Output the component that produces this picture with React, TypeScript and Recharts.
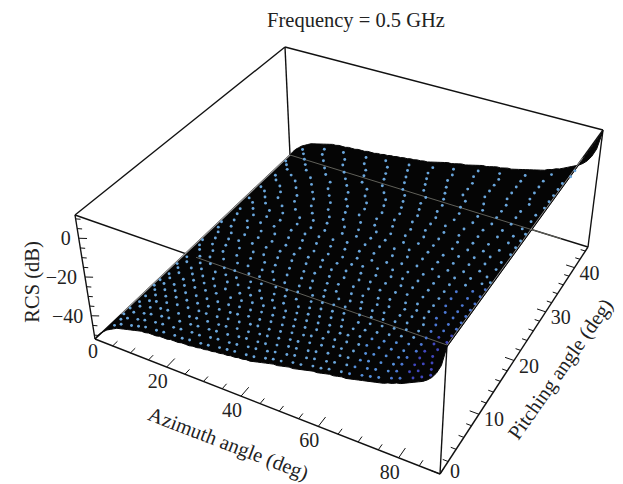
import { ScatterChart, Scatter, XAxis, YAxis } from "recharts";

const rcsMin = -52;
const rcsMax = 12;

const azimuthMajor = [0, 20, 40, 60, 80];
const azimuthMinor = [5, 10, 15, 25, 30, 35, 45, 50, 55, 65, 70, 75, 85, 90];
const pitchMajor = [0, 10, 20, 30, 40];
const pitchMinor = [2, 4, 6, 8, 12, 14, 16, 18, 22, 24, 26, 28, 32, 34, 36, 38, 42, 44];
const rcsMajor = [-40, -20, 0];
const rcsMinor = [-50, -45, -35, -30, -25, -15, -10, -5, 5, 10];

// RCS read along the surface, one value per degree of azimuth (0..90)
const rcsByAzimuth = [
  -52, -49.5, -47.5, -46, -44.5, -43.5, -42.5, -41.5, -41, -40.5,
  -40, -39.5, -39, -38.5, -38, -38, -37.5, -37.5, -37.5, -37,
  -37, -37, -36.5, -36.5, -36.5, -36, -36, -36, -35.5, -35.5,
  -35, -35, -34.5, -34.5, -34, -34, -33.5, -33.5, -33, -33,
  -32.5, -32.5, -32, -32, -31.5, -31, -30.5, -30, -29.5, -29,
  -29, -28.5, -28, -27.5, -27.5, -27, -26.5, -26, -25.5, -25,
  -25, -24.5, -24, -23.5, -23.5, -23, -22.5, -22.5, -22, -21.5,
  -21, -20.5, -20, -19.5, -19, -18.5, -18, -17, -16.5, -15.5,
  -15, -14, -13, -12, -11, -10, -8.5, -6.5, -3.5, 1, 11,
];

const dotPitches = [
  0.8, 2, 3.2, 4.4, 5.6, 6.8, 8, 9.2, 10.4, 11.6, 12.8, 14, 15.4, 16.8, 18.2, 19.6,
  21, 22.5, 24, 25.5, 27, 28.5, 30, 31.5, 33, 34.5, 36, 37.5, 39, 40.5, 42, 43.5,
];

// Azimuths of the light dots on each pitch row above
const dotAzimuths = [
  [5, 7, 10, 12, 14, 17, 19, 22, 24, 26, 29, 31, 34, 36, 38, 41, 43, 46, 48, 50, 53, 55, 58, 60, 62, 65, 67, 70, 72, 74, 77, 79, 82, 84, 86],
  [5, 7, 10, 12, 15, 17, 20, 22, 25, 27, 30, 32, 35, 37, 40, 42, 45, 47, 50, 52, 55, 57, 60, 62, 65, 67, 70, 72, 75, 77, 80, 82, 85],
  [4, 7, 10, 12, 15, 17, 20, 23, 25, 28, 30, 33, 36, 38, 41, 43, 46, 49, 51, 54, 56, 59, 62, 64, 67, 69, 72, 75, 77, 80, 82, 84],
  [4, 7, 10, 13, 15, 18, 21, 23, 26, 29, 31, 34, 37, 40, 42, 45, 48, 50, 53, 56, 59, 61, 64, 67, 69, 72, 75, 77, 80, 83],
  [5, 8, 10, 13, 16, 19, 22, 24, 27, 30, 33, 36, 38, 41, 44, 47, 50, 52, 55, 58, 61, 64, 66, 69, 72, 75, 78, 80, 83],
  [5, 8, 11, 14, 17, 20, 23, 26, 29, 31, 34, 37, 40, 43, 46, 49, 52, 55, 58, 60, 63, 66, 69, 72, 75, 78, 81, 84],
  [6, 9, 12, 15, 18, 21, 24, 27, 30, 33, 36, 39, 42, 45, 48, 51, 54, 57, 60, 63, 66, 69, 72, 75, 78, 81, 84],
  [4, 7, 10, 13, 16, 19, 22, 26, 29, 32, 35, 38, 41, 44, 47, 50, 53, 56, 60, 63, 66, 69, 72, 75, 78, 81, 84],
  [4, 7, 11, 14, 17, 20, 23, 27, 30, 33, 36, 39, 43, 46, 49, 52, 55, 59, 62, 65, 68, 71, 75, 78, 81, 84],
  [5, 8, 12, 15, 18, 22, 25, 28, 31, 35, 38, 41, 45, 48, 51, 54, 58, 61, 64, 68, 71, 74, 77, 81, 84],
  [6, 10, 13, 17, 20, 23, 27, 30, 34, 37, 40, 44, 47, 51, 54, 57, 61, 64, 68, 71, 74, 78, 81, 84],
  [4, 7, 11, 14, 18, 21, 25, 28, 32, 35, 39, 42, 46, 49, 53, 56, 60, 63, 67, 70, 74, 77, 81, 84],
  [5, 9, 12, 16, 20, 23, 27, 30, 34, 38, 41, 45, 48, 52, 56, 59, 63, 66, 70, 74, 77, 81, 84],
  [7, 11, 14, 18, 22, 26, 29, 33, 37, 40, 44, 48, 52, 55, 59, 63, 66, 70, 74, 77, 81, 84],
  [5, 9, 13, 17, 21, 24, 28, 32, 36, 40, 43, 47, 51, 55, 59, 62, 66, 70, 74, 78, 82, 84],
  [4, 8, 12, 15, 19, 23, 27, 31, 35, 39, 43, 47, 50, 54, 58, 62, 66, 70, 74, 78, 82],
  [7, 11, 15, 19, 23, 27, 31, 35, 39, 43, 47, 51, 55, 59, 63, 67, 71, 75, 79, 83],
  [5, 9, 14, 18, 22, 26, 30, 34, 38, 42, 46, 50, 55, 59, 63, 67, 71, 75, 79, 83],
  [4, 8, 12, 16, 20, 25, 29, 33, 37, 41, 46, 50, 54, 58, 63, 67, 71, 75, 79, 84],
  [7, 12, 16, 20, 25, 29, 33, 38, 42, 46, 50, 55, 59, 63, 68, 72, 76, 80, 84],
  [6, 10, 15, 19, 24, 28, 32, 37, 41, 46, 50, 54, 59, 63, 68, 72, 76, 81, 84],
  [8, 12, 17, 21, 26, 31, 35, 40, 44, 49, 54, 58, 63, 67, 72, 77, 81, 84],
  [5, 10, 14, 19, 24, 29, 34, 38, 43, 48, 53, 58, 62, 67, 72, 77, 82],
  [8, 13, 18, 23, 28, 33, 38, 43, 48, 53, 58, 63, 68, 73, 78, 83],
  [5, 11, 16, 21, 26, 31, 37, 42, 47, 52, 57, 63, 68, 73, 78, 83],
  [8, 14, 19, 24, 30, 35, 41, 46, 51, 57, 62, 68, 73, 78, 84],
  [6, 11, 17, 23, 28, 34, 39, 45, 51, 56, 62, 67, 73, 79, 84],
  [8, 14, 20, 26, 31, 37, 43, 49, 55, 60, 66, 72, 78, 84],
  [6, 12, 18, 24, 30, 36, 42, 48, 54, 60, 66, 72, 78, 84],
  [4, 10, 16, 22, 29, 35, 41, 47, 53, 60, 66, 72, 78, 84],
  [8, 14, 21, 27, 34, 40, 46, 53, 59, 66, 72, 78, 85],
  [6, 13, 19, 26, 32, 39, 46, 52, 59, 65, 72, 79, 85],
];

// Screen position of the eight box corners, in the order azimuth, pitch, rcs
const boxCorners = {
  a000: [95, 339],
  a100: [440, 474],
  a110: [588, 247],
  a010: [290, 155],
  a001: [75, 215],
  a101: [447, 345],
  a111: [603, 130],
  a011: [285, 47],
};

const warp = (u: number, r: number) => u / (u + r * (1 - u));
const mix = (p: number[], q: number[], t: number) => [p[0] + (q[0] - p[0]) * t, p[1] + (q[1] - p[1]) * t];

function project(az: number, pitch: number, rcs: number) {
  const u = warp(az / 90, 1.09);
  const v = warp(pitch / 45, 0.8);
  const w = (rcs - rcsMin) / (rcsMax - rcsMin);
  const c = boxCorners;
  const bottom = mix(mix(c.a000, c.a100, u), mix(c.a010, c.a110, u), v);
  const top = mix(mix(c.a001, c.a101, u), mix(c.a011, c.a111, u), v);
  const [x, y] = mix(bottom, top, w);
  return { x, y, az, pitch, rcs };
}

const noDot = () => <g />;

function segment(key: string, from: number[], to: number[], stroke: string, strokeWidth: number) {
  return (
    <Scatter
      key={key}
      data={[project(from[0], from[1], from[2]), project(to[0], to[1], to[2])]}
      shape={noDot}
      line={{ stroke, strokeWidth }}
      isAnimationActive={false}
    />
  );
}

const surfaceOutline = [
  ...rcsByAzimuth.map((rcs, az) => project(az, 0, rcs)),
  project(90, 15, 11),
  project(90, 30, 11),
  ...rcsByAzimuth.map((rcs, az) => project(az, 45, rcs)).reverse(),
];

const surfaceDots = dotAzimuths.flatMap((row, i) =>
  row.map((az) => project(az, dotPitches[i], rcsByAzimuth[az])),
);

function dotColor(az: number, pitch: number) {
  if (az >= 80 && pitch < 9) return "#4148c0";
  if (az >= 76 && pitch < 18) return "#4c78d4";
  if (az >= 66 && pitch < 8) return "#5690dc";
  return "#6aa6dc";
}

const DotMark = (props: any) => (
  <circle cx={props.cx} cy={props.cy} r={1.45} fill={dotColor(props.payload.az, props.payload.pitch)} />
);

function tickLabel(dx: number, dy: number, anchor: string) {
  return (props: any) => (
    <text
      x={props.cx + dx}
      y={props.cy + dy}
      textAnchor={anchor}
      dominantBaseline="central"
      fontFamily="Liberation Serif"
      fontSize={20}
      fill="#222"
    >
      {props.payload.label}
    </text>
  );
}

const azimuthLabels = azimuthMajor.map((az) => ({ ...project(az, 0, rcsMin), label: String(az) }));
const pitchLabels = pitchMajor.map((p) => ({ ...project(90, p, rcsMin), label: String(p) }));
const rcsLabels = rcsMajor.map((r) => ({ ...project(0, 0, r), label: String(r).replace("-", "\u2212") }));

const titleStyle = { fontFamily: "Liberation Serif", fontSize: 20.5, fill: "#222" };

export default function App() {
  return (
    <div style={{ position: "absolute", left: 0, top: 0, width: 623, height: 484, background: "#fff" }}>
      <ScatterChart width={623} height={484} margin={{ top: 0, right: 0, bottom: 0, left: 0 }}>
        <XAxis type="number" dataKey="x" domain={[0, 623]} hide allowDataOverflow />
        <YAxis type="number" dataKey="y" domain={[0, 484]} reversed hide allowDataOverflow />

        {/* box edges behind the surface */}
        {segment("e-ad", [0, 0, rcsMin], [0, 45, rcsMin], "#111", 1.4)}
        {segment("e-dc", [0, 45, rcsMin], [90, 45, rcsMin], "#111", 1.4)}
        {segment("e-dh", [0, 45, rcsMin], [0, 45, rcsMax], "#111", 1.4)}
        {segment("e-cg", [90, 45, rcsMin], [90, 45, rcsMax], "#111", 1.4)}
        {segment("e-ab", [0, 0, rcsMin], [90, 0, rcsMin], "#111", 1.4)}
        {segment("e-bc", [90, 0, rcsMin], [90, 45, rcsMin], "#111", 1.4)}
        {segment("e-ae", [0, 0, rcsMin], [0, 0, rcsMax], "#111", 1.4)}
        {segment("e-bf", [90, 0, rcsMin], [90, 0, rcsMax], "#111", 1.4)}
        {segment("e-ef", [0, 0, rcsMax], [90, 0, rcsMax], "#111", 1.4)}
        {segment("e-eh", [0, 0, rcsMax], [0, 45, rcsMax], "#111", 1.4)}
        {segment("e-hg", [0, 45, rcsMax], [90, 45, rcsMax], "#111", 1.4)}
        {segment("e-gf", [90, 45, rcsMax], [90, 0, rcsMax], "#111", 1.4)}

        {azimuthMajor.map((az) => segment(`az${az}`, [az, 0, rcsMin], [az, 1.6, rcsMin], "#111", 1))}
        {azimuthMinor.map((az) => segment(`azm${az}`, [az, 0, rcsMin], [az, 0.9, rcsMin], "#111", 1))}
        {pitchMajor.map((p) => segment(`p${p}`, [90, p, rcsMin], [87.7, p, rcsMin], "#111", 1))}
        {pitchMinor.map((p) => segment(`pm${p}`, [90, p, rcsMin], [88.7, p, rcsMin], "#111", 1))}
        {rcsMajor.map((r) => segment(`r${r}`, [0, 0, r], [1.6, 0.4, r], "#111", 1))}
        {rcsMinor.map((r) => segment(`rm${r}`, [0, 0, r], [1, 0.2, r], "#111", 1))}

        <Scatter
          data={surfaceOutline}
          shape={noDot}
          line={{ fill: "#050505", stroke: "#050505", strokeWidth: 1 }}
          isAnimationActive={false}
        />

        {/* thin edges showing through the surface */}
        {segment("g-ef", [31, 0, rcsMax], [90, 0, rcsMax], "#77776f", 0.8)}
        {segment("g-dc", [0, 45, rcsMin], [82.5, 45, rcsMin], "#77776f", 0.8)}
        {segment("g-ad", [0, 5, rcsMin], [0, 45, rcsMin], "#9a9a9a", 1.2)}
        {segment("g-gf", [90, 0, rcsMax], [90, 38, rcsMax], "#8a8a8a", 1)}

        <Scatter data={surfaceDots} shape={DotMark} isAnimationActive={false} />

        <Scatter data={azimuthLabels.slice(1)} shape={tickLabel(-9, 14, "middle")} isAnimationActive={false} />
        <Scatter data={azimuthLabels.slice(0, 1)} shape={tickLabel(-2, 12, "middle")} isAnimationActive={false} />
        <Scatter data={pitchLabels.slice(1)} shape={tickLabel(15, 5, "middle")} isAnimationActive={false} />
        <Scatter data={pitchLabels.slice(0, 1)} shape={tickLabel(15, -3, "middle")} isAnimationActive={false} />
        <Scatter data={rcsLabels} shape={tickLabel(-8, 0, "end")} isAnimationActive={false} />

        <text x={356} y={27} textAnchor="middle" {...titleStyle}>
          Frequency = 0.5 GHz
        </text>
        <text transform="translate(39 282) rotate(-90)" textAnchor="middle" {...titleStyle}>
          RCS (dB)
        </text>
        <text transform="translate(226 450) rotate(21)" textAnchor="middle" {...titleStyle}>
          Azimuth angle (deg)
        </text>
        <text transform="translate(566 373) rotate(-55)" textAnchor="middle" {...titleStyle}>
          Pitching angle (deg)
        </text>
      </ScatterChart>
    </div>
  );
}
